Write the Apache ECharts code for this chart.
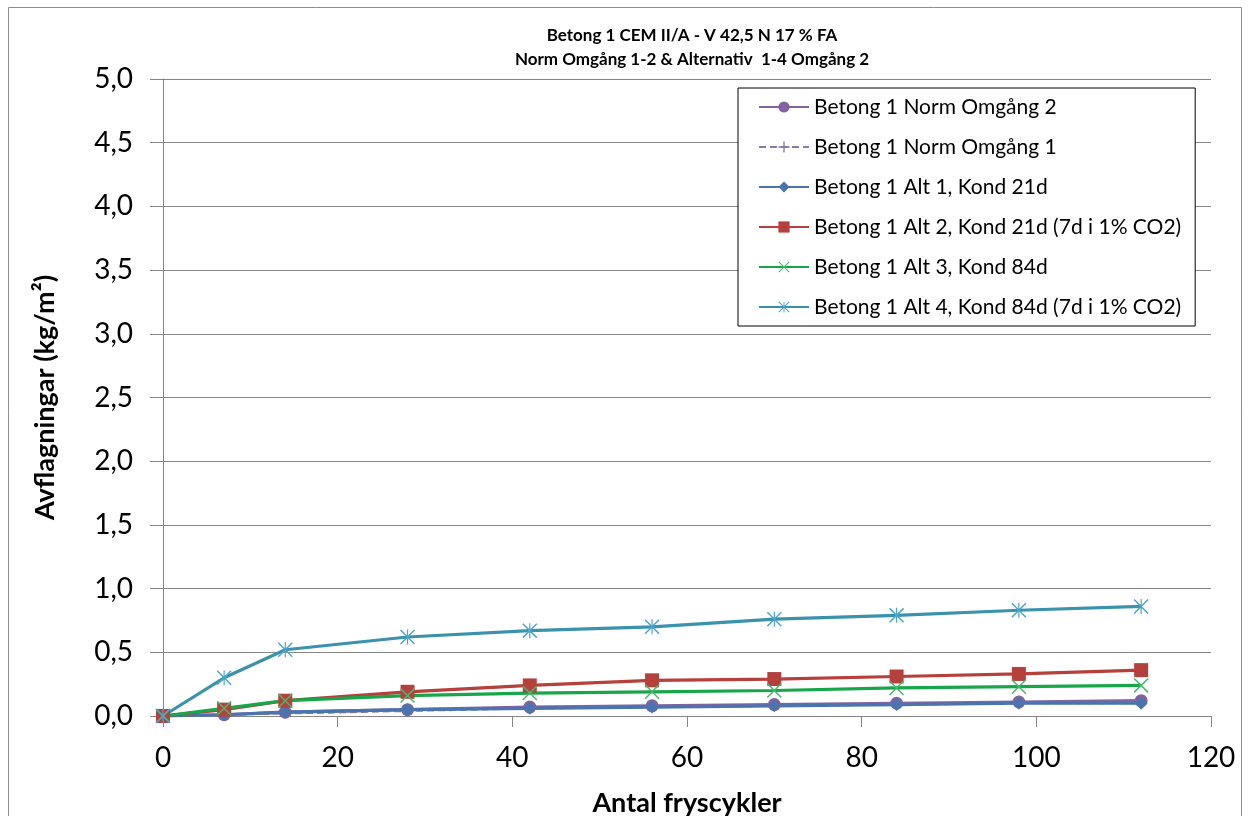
<!DOCTYPE html>
<html>
<head>
<meta charset="utf-8">
<title>Betong 1 CEM II/A - V 42,5 N 17 % FA</title>
<script src="https://cdn.jsdelivr.net/npm/echarts@6/dist/echarts.min.js"></script>
<style>
  html, body { margin: 0; padding: 0; background: #ffffff; }
  #chart { width: 1250px; height: 816px; }
</style>
</head>
<body>
<div id="chart"></div>
<script>
// Antal fryscykler (x values shared by all series)
const cycles = [0, 7, 14, 28, 42, 56, 70, 84, 98, 112];

// Avflagningar (kg/m²) per series
const normOmg2 = [0, 0.01, 0.03, 0.05, 0.07, 0.08, 0.09, 0.10, 0.11, 0.12];
const normOmg1 = [0, 0.01, 0.02, 0.04, 0.06, 0.07, 0.08, 0.09, 0.10, 0.10];
const alt1 = [0, 0.01, 0.03, 0.05, 0.06, 0.07, 0.08, 0.09, 0.10, 0.10];
const alt2 = [0, 0.05, 0.12, 0.19, 0.24, 0.28, 0.29, 0.31, 0.33, 0.36];
const alt3 = [0, 0.06, 0.12, 0.16, 0.18, 0.19, 0.20, 0.22, 0.23, 0.24];
const alt4 = [0, 0.30, 0.52, 0.62, 0.67, 0.70, 0.76, 0.79, 0.83, 0.86];

const seriesNames = [
  'Betong 1 Norm Omgång 2',
  'Betong 1 Norm Omgång 1',
  'Betong 1 Alt 1, Kond 21d',
  'Betong 1 Alt 2, Kond 21d (7d i 1% CO2)',
  'Betong 1 Alt 3, Kond 84d',
  'Betong 1 Alt 4, Kond 84d (7d i 1% CO2)'
];

const FONT = 'Lato, "Open Sans", sans-serif';

// thin stroked-looking marker shapes built as filled paths
const plusPath = 'path://M0,4.4 L10,4.4 L10,5.6 L0,5.6 Z M4.4,0 L5.6,0 L5.6,10 L4.4,10 Z';
const crossPath = 'path://M0,0.7 L0.7,0 L10,9.3 L9.3,10 Z M9.3,0 L10,0.7 L0.7,10 L0,9.3 Z';
const starPath = 'path://M0,0.7 L0.7,0 L10,9.3 L9.3,10 Z M9.3,0 L10,0.7 L0.7,10 L0,9.3 Z M4.6,0 L5.4,0 L5.4,10 L4.6,10 Z';

function pairs(ys) {
  return cycles.map((x, i) => [x, ys[i]]);
}

function lineSeries(name, ys, color, markerColor, symbol, size, extra) {
  return Object.assign({
    name: name,
    type: 'line',
    data: pairs(ys),
    symbol: symbol,
    symbolSize: size,
    showAllSymbol: true,
    lineStyle: { color: color, width: 3.2 },
    itemStyle: { color: markerColor, borderWidth: 0 },
    emphasis: { disabled: true },
    animation: false
  }, extra || {});
}

const chart = echarts.init(document.getElementById('chart'), null, { renderer: 'canvas' });

chart.setOption({
  backgroundColor: '#ffffff',
  textStyle: { fontFamily: FONT },
  graphic: [{
    type: 'rect',
    shape: { x: 8.5, y: 7.5, width: 1233, height: 900 },
    style: { fill: 'none', stroke: '#8c8c8c', lineWidth: 1 },
    silent: true,
    z: -10
  }],
  title: {
    text: 'Betong 1 CEM II/A - V 42,5 N 17 % FA\nNorm Omgång 1-2 & Alternativ  1-4 Omgång 2',
    left: 687,
    textAlign: 'center',
    top: 19,
    textStyle: {
      fontFamily: FONT,
      fontSize: 17,
      fontWeight: 'bold',
      color: '#000000',
      lineHeight: 24
    }
  },
  legend: {
    orient: 'vertical',
    left: 738,
    top: 88,
    padding: [8, 14, 8, 20],
    itemGap: 18,
    itemWidth: 50,
    itemHeight: 14,
    borderColor: '#000000',
    borderWidth: 1,
    backgroundColor: '#ffffff',
    data: seriesNames,
    textStyle: { fontFamily: FONT, fontSize: 21, color: '#000000', lineHeight: 22 }
  },
  grid: { left: 163, right: 39, top: 79, bottom: 100, outerBoundsMode: 'none', containLabel: false },
  xAxis: {
    type: 'value',
    min: 0,
    max: 120,
    interval: 20,
    name: 'Antal fryscykler',
    nameLocation: 'middle',
    nameGap: 74,
    nameTextStyle: { fontFamily: FONT, fontSize: 27, fontWeight: 'bold', color: '#000000' },
    axisLine: { show: true, onZero: false, lineStyle: { color: '#868686', width: 1 } },
    axisTick: { show: true, inside: false, length: 11, lineStyle: { color: '#868686' } },
    axisLabel: { fontFamily: FONT, fontSize: 28, color: '#000000', margin: 28 },
    splitLine: { show: false }
  },
  yAxis: {
    type: 'value',
    min: 0,
    max: 5,
    interval: 0.5,
    name: 'Avflagningar (kg/m²)',
    nameLocation: 'middle',
    nameRotate: 90,
    nameGap: 104,
    nameTextStyle: { fontFamily: FONT, fontSize: 27, fontWeight: 'bold', color: '#000000' },
    axisLine: { show: true, lineStyle: { color: '#868686', width: 1 } },
    axisTick: { show: true, inside: false, length: 13, lineStyle: { color: '#868686' } },
    axisLabel: {
      fontFamily: FONT,
      fontSize: 28,
      color: '#000000',
      margin: 30,
      formatter: v => v.toFixed(1).replace('.', ',')
    },
    splitLine: { show: true, lineStyle: { color: '#868686', width: 1 } }
  },
  series: [
    lineSeries(seriesNames[0], normOmg2, '#8064A2', '#8064A2', 'circle', 13),
    lineSeries(seriesNames[1], normOmg1, '#8a78a8', '#8a78a8', plusPath, 10,
      { lineStyle: { color: '#8a78a8', width: 2.2, type: [7, 4] } }),
    lineSeries(seriesNames[2], alt1, '#4A74AE', '#4A74AE', 'diamond', 13),
    lineSeries(seriesNames[3], alt2, '#B6403C', '#B6403C', 'rect', 14),
    lineSeries(seriesNames[4], alt3, '#17A64A', '#45B86E', crossPath, 15),
    lineSeries(seriesNames[5], alt4, '#3B92AC', '#4BA6C8', starPath, 15)
  ]
});
</script>
</body>
</html>
